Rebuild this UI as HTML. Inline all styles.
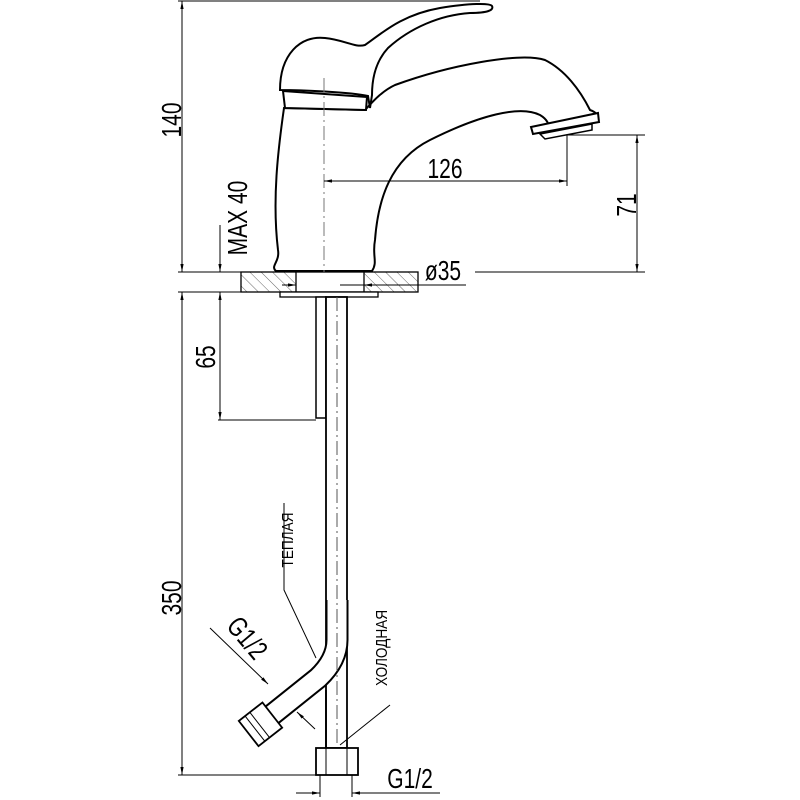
<!DOCTYPE html>
<html><head><meta charset="utf-8"><style>
html,body{margin:0;padding:0;background:#fff;}
svg{display:block;}
text{font-family:"Liberation Sans","DejaVu Sans",sans-serif;fill:#000;}
</style></head><body>
<svg width="800" height="800" viewBox="0 0 800 800" xmlns="http://www.w3.org/2000/svg">
<defs>
<pattern id="h" width="8" height="8" patternUnits="userSpaceOnUse" patternTransform="rotate(-45)">
<line x1="0" y1="0" x2="0" y2="8" stroke="#666" stroke-width="1"/>
</pattern>
<marker id="a" viewBox="0 0 10 10" refX="10" refY="5" markerWidth="8" markerHeight="8" orient="auto-start-reverse"><path d="M0,3 L10,5 L0,7z" fill="#000"/></marker>
</defs>
<g stroke="#000" fill="none" stroke-width="1">
<line x1="178" y1="1" x2="480" y2="1"/>
<line x1="182" y1="1" x2="182" y2="272" marker-start="url(#a)" marker-end="url(#a)"/>
<line x1="178" y1="272" x2="418" y2="272"/>
<line x1="475" y1="272" x2="645" y2="272"/>
<line x1="178" y1="292" x2="241" y2="292"/>
<line x1="182" y1="292" x2="182" y2="775" marker-start="url(#a)" marker-end="url(#a)"/>
<line x1="178" y1="775" x2="316" y2="775"/>
<line x1="220" y1="225" x2="220" y2="272" marker-end="url(#a)"/>
<line x1="220" y1="292" x2="220" y2="420" marker-start="url(#a)" marker-end="url(#a)"/>
<line x1="218" y1="420" x2="316" y2="420"/>
<rect x="241" y="272" width="177" height="20" fill="url(#h)" stroke-width="1.3"/>
<rect x="296" y="272" width="68" height="20" fill="#fff" stroke-width="1.3"/>
<rect x="280" y="292" width="98" height="5" fill="#fff" stroke-width="1.3"/>
<line x1="340" y1="285" x2="466" y2="285"/>
<line x1="282" y1="285" x2="296" y2="285" marker-end="url(#a)"/>
<line x1="380" y1="285" x2="364" y2="285" marker-end="url(#a)"/>
<path stroke-width="2" fill="#fff" d="M284,108 C278,150 272,200 278,250 C280,262 270,266 276,271 L372,271 C378,262 372,256 375,240 C378,200 390,160 430,140 C480,115 520,105 540,115 C545,118 553,125 545,132 L595,118 C598,115 596,112 590,110 C580,90 565,70 545,60 C520,52 450,65 395,85 C380,92 370,105 365,110 Z"/>
<path stroke-width="2" fill="#fff" d="M280,90 C280,55 300,35 325,38 C345,40 355,48 365,45 C380,35 400,15 440,8 C470,3 490,3 492,6 C494,10 488,13 470,13 C440,15 410,28 388,48 C375,62 372,80 372,95 L370,108 L368,96 C350,92 300,90 280,90 Z"/>
<path stroke-width="2" fill="#fff" d="M283,91 L367,97 L366,110 L285,108 Z"/>
<path stroke-width="2" fill="#fff" d="M531,127 L598,113 L599,122 L533,134 Z"/>
<path stroke-width="1.5" fill="#fff" d="M540,134 L592,124 L592,130 L545,139 Z"/>
<line x1="324" y1="78" x2="324" y2="272" stroke="#777" stroke-dasharray="14,4,2,4"/>
<line x1="324" y1="181" x2="567" y2="181" marker-start="url(#a)" marker-end="url(#a)"/>
<line x1="567" y1="135" x2="567" y2="186"/>
<line x1="567" y1="135" x2="645" y2="135"/>
<line x1="637" y1="135" x2="637" y2="272" marker-start="url(#a)" marker-end="url(#a)"/>
<rect x="316" y="297" width="10" height="121" fill="#fff" stroke-width="1.5"/>
<rect x="326" y="297" width="21" height="451" fill="#fff" stroke-width="1.8"/>
<path d="M337,600 L337,640 Q337,660 318,678 L268,718" stroke="#000" stroke-width="23"/>
<path d="M337,600 L337,640 Q337,660 318,678 L268,718" stroke="#fff" stroke-width="19"/>
<line x1="326" y1="690" x2="326" y2="748" stroke-width="1.8"/>
<line x1="337" y1="297" x2="337" y2="775" stroke="#555" stroke-dasharray="14,4,2,4"/>
<g transform="translate(266,720) rotate(-38)">
<rect x="-22" y="-16" width="30" height="32" fill="#fff" stroke-width="1.8"/>
<line x1="-14" y1="-16" x2="-14" y2="16"/>
<line x1="-8" y1="-16" x2="-8" y2="16"/>
</g>
<rect x="316" y="748" width="42" height="27" fill="#fff" stroke-width="1.8"/>
<line x1="326" y1="748" x2="326" y2="775"/><line x1="347" y1="748" x2="347" y2="775"/>
<line x1="320" y1="775" x2="320" y2="797"/><line x1="352" y1="775" x2="352" y2="797"/>
<line x1="296" y1="793" x2="320" y2="793" marker-end="url(#a)"/>
<line x1="440" y1="793" x2="352" y2="793" marker-end="url(#a)"/>
<line x1="210" y1="628" x2="268" y2="684" marker-end="url(#a)"/>
<line x1="315" y1="729" x2="297" y2="712" marker-end="url(#a)"/>
<polyline points="284,503 284,590 316,658"/>
<line x1="390" y1="705" x2="340" y2="745"/>
</g>
<g font-size="28">
<text transform="translate(181,120) rotate(-90) scale(0.75,1)" text-anchor="middle">140</text>
<text transform="translate(247,218) rotate(-90) scale(0.75,1)" text-anchor="middle">MAX  40</text>
<text transform="translate(445,178) scale(0.75,1)" text-anchor="middle">126</text>
<text transform="translate(636,205) rotate(-90) scale(0.75,1)" text-anchor="middle">71</text>
<text transform="translate(443,280) scale(0.75,1)" text-anchor="middle">ø35</text>
<text transform="translate(215,357) rotate(-90) scale(0.75,1)" text-anchor="middle">65</text>
<text transform="translate(181,598) rotate(-90) scale(0.75,1)" text-anchor="middle">350</text>
<text transform="translate(410,788) scale(0.75,1)" text-anchor="middle">G1/2</text>
<text transform="translate(240,644) rotate(50) scale(0.75,1)" text-anchor="middle">G1/2</text>
</g>
<g font-size="16">
<text transform="translate(293,540) rotate(-90) scale(0.85,1)" text-anchor="middle">ТЕПЛАЯ</text>
<text transform="translate(387,648) rotate(-90) scale(0.85,1)" text-anchor="middle">ХОЛОДНАЯ</text>
</g>
</svg>
</body></html>
